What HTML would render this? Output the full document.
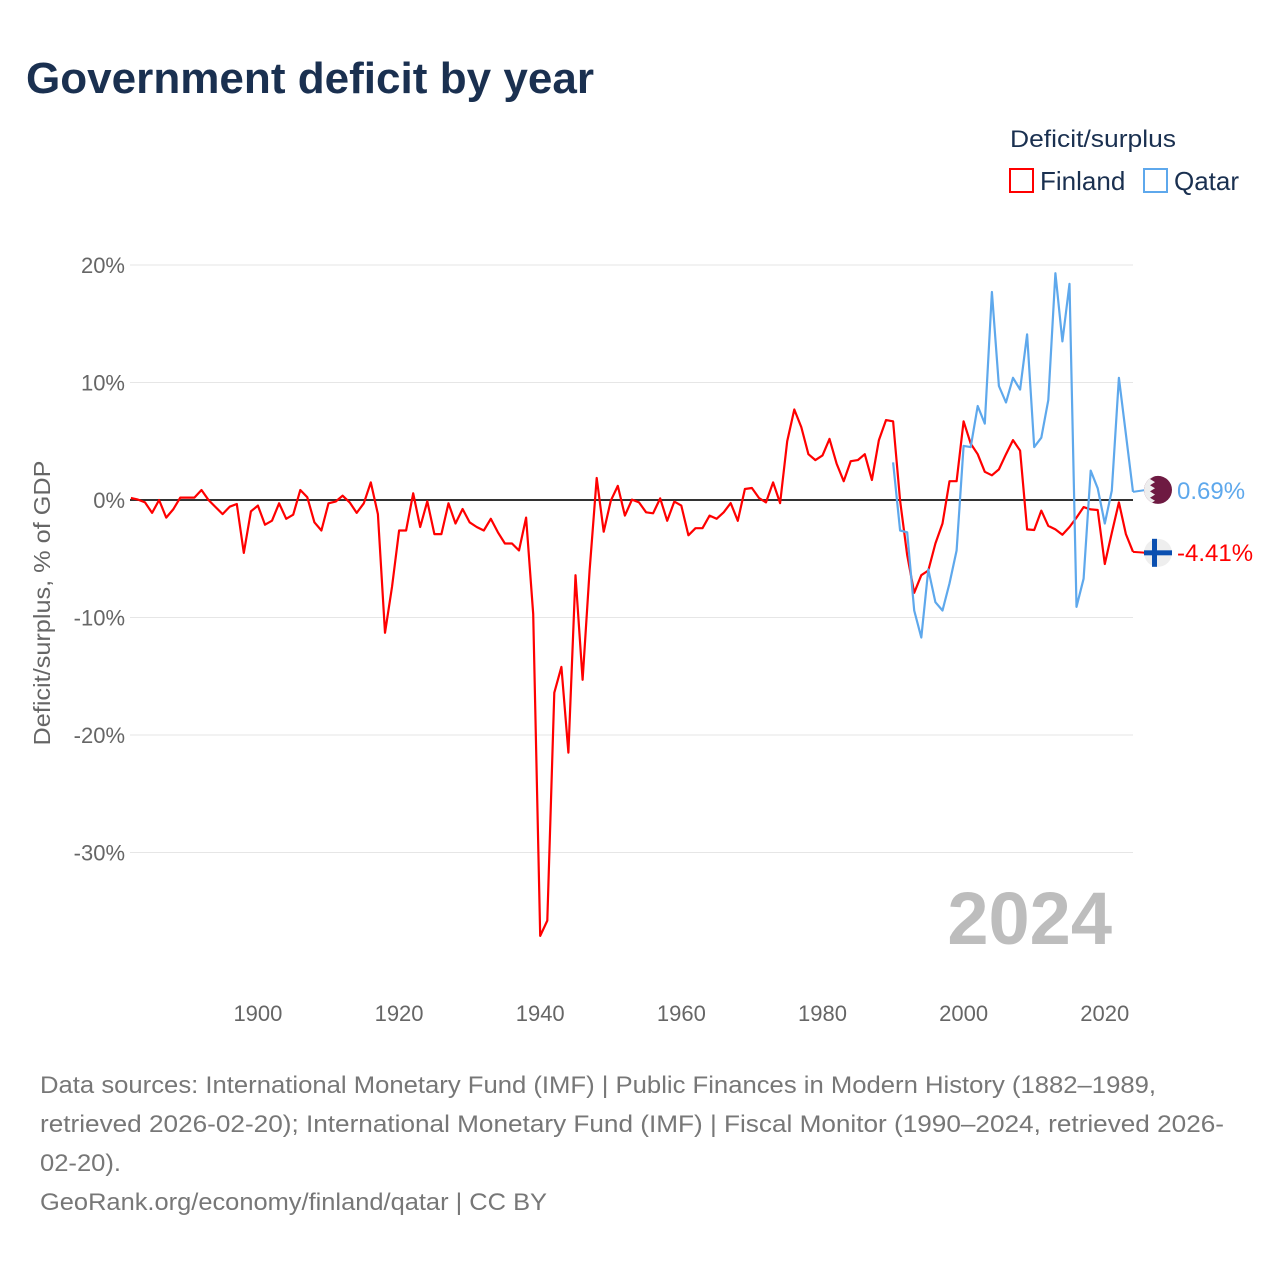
<!DOCTYPE html>
<html><head><meta charset="utf-8">
<style>
body{margin:0;background:#fff;font-family:"Liberation Sans",sans-serif;}
#wrap{position:relative;width:1280px;height:1280px;overflow:hidden;}
</style></head>
<body>
<div id="wrap">
<svg id="chart" width="1280" height="1280" xmlns="http://www.w3.org/2000/svg">
<defs>
<clipPath id="qclip"><circle id="qclipc" cx="1158" cy="490" r="14"/></clipPath>
</defs>
<text x="26" y="93" font-size="44" font-weight="bold" fill="#1a3050" textLength="568" lengthAdjust="spacingAndGlyphs">Government deficit by year</text>
<text x="1010" y="147" font-size="24" fill="#1a3050" textLength="166" lengthAdjust="spacingAndGlyphs">Deficit/surplus</text>
<g>
<rect x="1010" y="169" width="23" height="23" fill="none" stroke="#ff0000" stroke-width="2"/>
<text x="1040" y="190" font-size="26" fill="#1a3050">Finland</text>
</g>
<g>
<rect x="1144" y="169" width="23" height="23" fill="none" stroke="#5ea8ec" stroke-width="2"/>
<text x="1174" y="190" font-size="26" fill="#1a3050">Qatar</text>
</g>
<g id="grid"></g>
<g id="yticks"></g>
<g id="xticks"></g>
<text transform="translate(50,603) rotate(-90)" text-anchor="middle" font-size="23" fill="#666" textLength="285" lengthAdjust="spacingAndGlyphs">Deficit/surplus, % of GDP</text>
<text x="1112" y="944" text-anchor="end" font-size="74" font-weight="bold" fill="#bdbdbd">2024</text>
<g id="series"></g>
<g id="endlabels"></g>
<g font-size="24" fill="#777">
<text x="40" y="1093" textLength="1116" lengthAdjust="spacingAndGlyphs">Data sources: International Monetary Fund (IMF) | Public Finances in Modern History (1882–1989,</text>
<text x="40" y="1132" textLength="1184" lengthAdjust="spacingAndGlyphs">retrieved 2026-02-20); International Monetary Fund (IMF) | Fiscal Monitor (1990–2024, retrieved 2026-</text>
<text x="40" y="1171" textLength="81" lengthAdjust="spacingAndGlyphs">02-20).</text>
<text x="40" y="1210" textLength="507" lengthAdjust="spacingAndGlyphs">GeoRank.org/economy/finland/qatar | CC BY</text>
</g>
</svg>
</div>
<script>
const finlandStart = 1882;
const finlandValues = [0.17,0.03,-0.2,-1.1,0,-1.5,-0.8,0.2,0.2,0.2,
0.85,0,-0.6,-1.2,-0.57,-0.34,-4.5,-0.97,-0.48,-2.1,
-1.76,-0.28,-1.6,-1.25,0.85,0.23,-1.9,-2.6,-0.28,-0.14,
0.37,-0.2,-1.1,-0.28,1.5,-1.2,-11.3,-7.4,-2.6,-2.6,
0.57,-2.3,-0.11,-2.9,-2.9,-0.28,-2.0,-0.77,-1.9,-2.3,
-2.6,-1.6,-2.75,-3.7,-3.7,-4.3,-1.5,-9.7,
-37.1,-35.8,-16.4,-14.2,-21.5,-6.4,-15.3,-6.0,1.87,-2.7,
-0.06,1.2,-1.33,0.03,-0.2,-1.05,-1.13,0.14,-1.77,-0.14,
-0.48,-3.0,-2.4,-2.4,-1.33,-1.6,-1.05,-0.26,-1.77,0.94,
1.02,0.17,-0.2,1.5,-0.26,5.0,7.7,6.2,3.9,3.4,
3.8,5.2,3.1,1.6,3.3,3.4,3.9,1.7,5.1,6.8,
6.7,-0.06,-4.7,-7.9,-6.4,-6.0,-3.7,-2.0,1.6,1.6,
6.7,4.8,3.9,2.4,2.1,2.6,3.9,5.1,4.2,-2.5,
-2.55,-0.9,-2.2,-2.5,-2.95,-2.3,-1.5,-0.6,-0.8,-0.85,
-5.45,-2.8,-0.2,-2.9,-4.41];
const qatarStart = 1990;
const qatarValues = [3.2,-2.6,-2.75,-9.4,-11.7,-5.9,-8.7,-9.4,-7.1,-4.3,
4.6,4.5,8.0,6.5,17.7,9.7,8.3,10.4,9.4,14.1,
4.5,5.3,8.5,19.3,13.5,18.4,-9.1,-6.7,2.5,1.0,
-2.0,0.8,10.4,5.6,0.69];
const yTicks = [20,10,0,-10,-20,-30];
const yTickLabels = ["20%","10%","0%","-10%","-20%","-30%"];
const xTicks = [1900,1920,1940,1960,1980,2000,2020];
const endLabels = ["0.69%","-4.41%"];

const NS="http://www.w3.org/2000/svg";
const X0=130.9, X1=1133, Y0=1882, Y1=2024;
function xs(yr){return X0+(yr-Y0)*(X1-X0)/(Y1-Y0);}
function ys(v){return 500-v*11.75;}
function mk(tag,attrs,parent){const e=document.createElementNS(NS,tag);for(const k in attrs)e.setAttribute(k,attrs[k]);parent.appendChild(e);return e;}
const grid=document.getElementById('grid'),yt=document.getElementById('yticks'),xt=document.getElementById('xticks'),ser=document.getElementById('series'),el=document.getElementById('endlabels');
yTicks.forEach((v,i)=>{
  if(v!==0){const l=mk('line',{x1:130,x2:1133,y1:ys(v),y2:ys(v),stroke:'#e6e6e6','stroke-width':1},grid);
  
  }
  const t=mk('text',{x:125,y:ys(v)+8,'text-anchor':'end','font-size':22,fill:'#666'},yt);
  t.textContent=yTickLabels[i];
  
  
});
xTicks.forEach(yr=>{
  const t=mk('text',{x:xs(yr),y:1021,'text-anchor':'middle','font-size':22,fill:'#666'},xt);
  t.textContent=yr;
  
  
});
const zl=mk('line',{x1:130,x2:1133,y1:ys(0),y2:ys(0),stroke:'#333','stroke-width':2},grid);


function path(start,vals){return vals.map((v,i)=>(i?'L':'M')+xs(start+i).toFixed(1)+','+ys(v).toFixed(1)).join('');}
const pf=mk('path',{d:path(finlandStart,finlandValues),fill:'none',stroke:'#ff0000','stroke-width':2.2,'stroke-linejoin':'round'},ser);


const pq=mk('path',{d:path(qatarStart,qatarValues),fill:'none',stroke:'#5ea8ec','stroke-width':2.2,'stroke-linejoin':'round'},ser);


const qLast=qatarValues[qatarValues.length-1], fLast=finlandValues[finlandValues.length-1];
const qy=ys(qLast)-2, fy=ys(fLast)+1;
document.getElementById('qclipc').setAttribute('cy',qy);
const ql=mk('line',{x1:xs(2024),x2:1146,y1:ys(qLast),y2:qy,stroke:'#5ea8ec','stroke-width':2},el);


const fl=mk('line',{x1:xs(2024),x2:1146,y1:ys(fLast),y2:fy,stroke:'#ff0000','stroke-width':2},el);


const qg=mk('g',{'clip-path':'url(#qclip)'},el);


const qc=mk('rect',{x:1140,y:qy-16,width:36,height:32,fill:'#6e1a42'},qg);


let zz='M1140,'+(qy-16)+' L1150,'+(qy-16);
for(let k=0;k<=9;k++){const yy=qy-14+k*28/9; zz+=' L'+(k%2?1150:1155)+','+yy.toFixed(1);}
zz+=' L1150,'+(qy+16)+' L1140,'+(qy+16)+'Z';
const qw=mk('path',{d:zz,fill:'#eee'},qg);


const fc=mk('circle',{cx:1158,cy:fy,r:14,fill:'#eee'},el);


const fh=mk('rect',{x:1144,y:fy-2.5,width:28,height:5,fill:'#0a4fb0'},el);


const fv=mk('rect',{x:1152,y:fy-14,width:5,height:28,fill:'#0a4fb0'},el);


const qt=mk('text',{x:1177,y:qy+9,'font-size':24,fill:'#5ea8ec'},el);
qt.textContent=endLabels[0];


const ft=mk('text',{x:1177,y:fy+8,'font-size':24,fill:'#ff0000'},el);
ft.textContent=endLabels[1];


</script>
</body></html>
